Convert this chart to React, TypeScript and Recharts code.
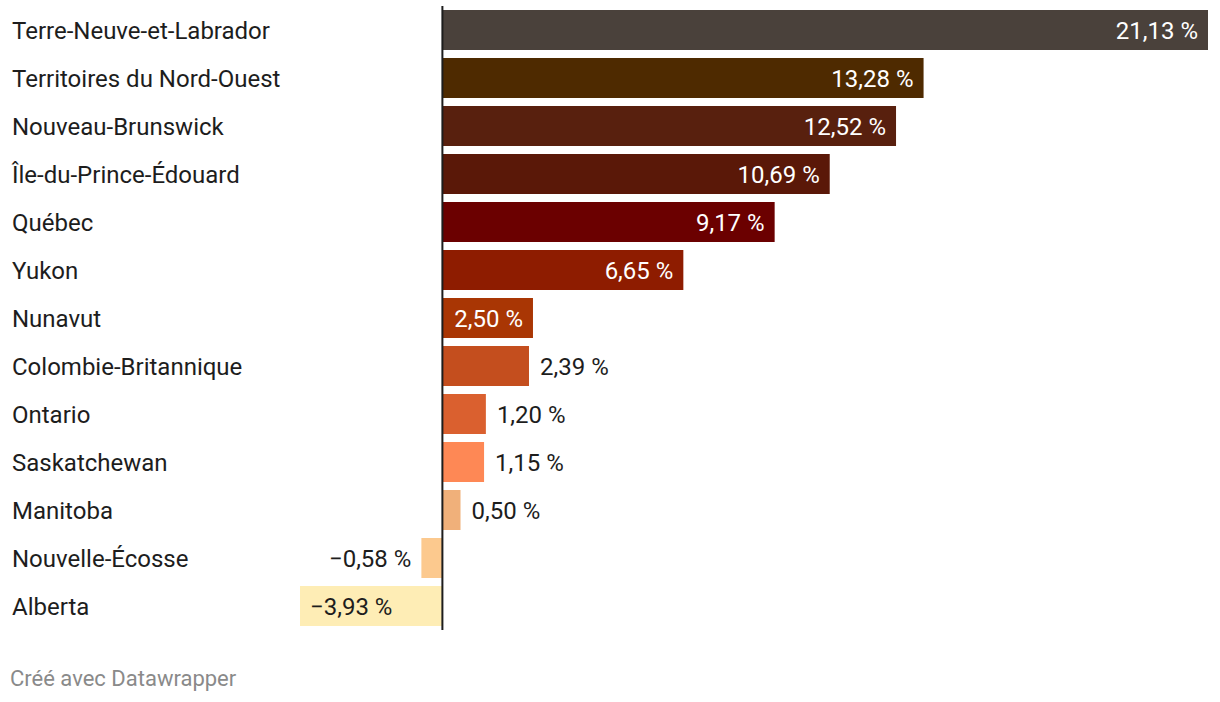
import { Bar, BarChart, Cell, LabelList, ReferenceLine, XAxis, YAxis } from "recharts";

const PROVINCES = [
  "Terre-Neuve-et-Labrador",
  "Territoires du Nord-Ouest",
  "Nouveau-Brunswick",
  "Île-du-Prince-Édouard",
  "Québec",
  "Yukon",
  "Nunavut",
  "Colombie-Britannique",
  "Ontario",
  "Saskatchewan",
  "Manitoba",
  "Nouvelle-Écosse",
  "Alberta",
];

const CHANGE = [21.13, 13.28, 12.52, 10.69, 9.17, 6.65, 2.5, 2.39, 1.2, 1.15, 0.5, -0.58, -3.93];

const COLORS = [
  "#4a413b", "#4e2a00", "#58200e", "#5a1808", "#6b0000", "#8e1c00", "#a93604",
  "#c44e1e", "#da602f", "#fe8855", "#f0b07a", "#fcc98e", "#feedb5",
];

const DOMAIN: [number, number] = [-3.93, 21.13];
const INSIDE_MIN = 2.45; // below this the value label sits outside the bar
const FONT = "Roboto, 'Noto Sans', sans-serif";

const data = PROVINCES.map((name, i) => ({ name, v: CHANGE[i], color: COLORS[i] }));

const fmt = (v: number) => `${v < 0 ? "\u2212" : ""}${Math.abs(v).toFixed(2).replace(".", ",")} %`;

function NameTick({ y, payload }: any) {
  return (
    <text x={12} y={y} dy="0.36em" textAnchor="start" fontSize={24} fontFamily={FONT} fill="#1d1d1d">
      {payload.value}
    </text>
  );
}

function ValueLabel(props: any) {
  const { x, y, width, height, value, index } = props;
  const cy = y + height / 2;
  const inside = Math.abs(value) >= INSIDE_MIN;
  const light = index === CHANGE.length - 1;
  const neg = value < 0;
  const left = Math.min(x, x + width);
  const right = Math.max(x, x + width);
  let tx: number;
  let anchor: "start" | "end";
  if (inside) {
    tx = neg ? left + 10 : right - 10;
    anchor = neg ? "start" : "end";
  } else {
    tx = neg ? left - 10 : right + 11;
    anchor = neg ? "end" : "start";
  }
  const fill = inside && !light ? "#ffffff" : "#1d1d1d";
  return (
    <text x={tx} y={cy} dy="0.36em" textAnchor={anchor} fontSize={24} fontFamily={FONT} fill={fill}>
      {fmt(value)}
    </text>
  );
}

export default function App() {
  return (
    <div style={{ position: "absolute", left: 0, top: 0, width: 1220, height: 702, background: "#fff" }}>
      <BarChart
        width={1220}
        height={640}
        data={data}
        layout="vertical"
        margin={{ top: 6, right: 12, bottom: 10, left: 0 }}
      >
        <XAxis type="number" domain={DOMAIN} hide allowDataOverflow />
        <YAxis
          type="category"
          dataKey="name"
          width={300}
          axisLine={false}
          tickLine={false}
          tick={<NameTick />}
          interval={0}
        />
        <Bar dataKey="v" barSize={40} isAnimationActive={false}>
          {data.map((d) => (
            <Cell key={d.name} fill={d.color} />
          ))}
          <LabelList dataKey="v" content={<ValueLabel />} />
        </Bar>
        <ReferenceLine x={0} stroke="#1d1d1d" strokeWidth={2} />
      </BarChart>
      <div
        style={{
          position: "absolute",
          left: 10,
          top: 668,
          fontFamily: FONT,
          fontSize: 22,
          lineHeight: "22px",
          color: "#8a8a8a",
        }}
      >
        Créé avec Datawrapper
      </div>
    </div>
  );
}
